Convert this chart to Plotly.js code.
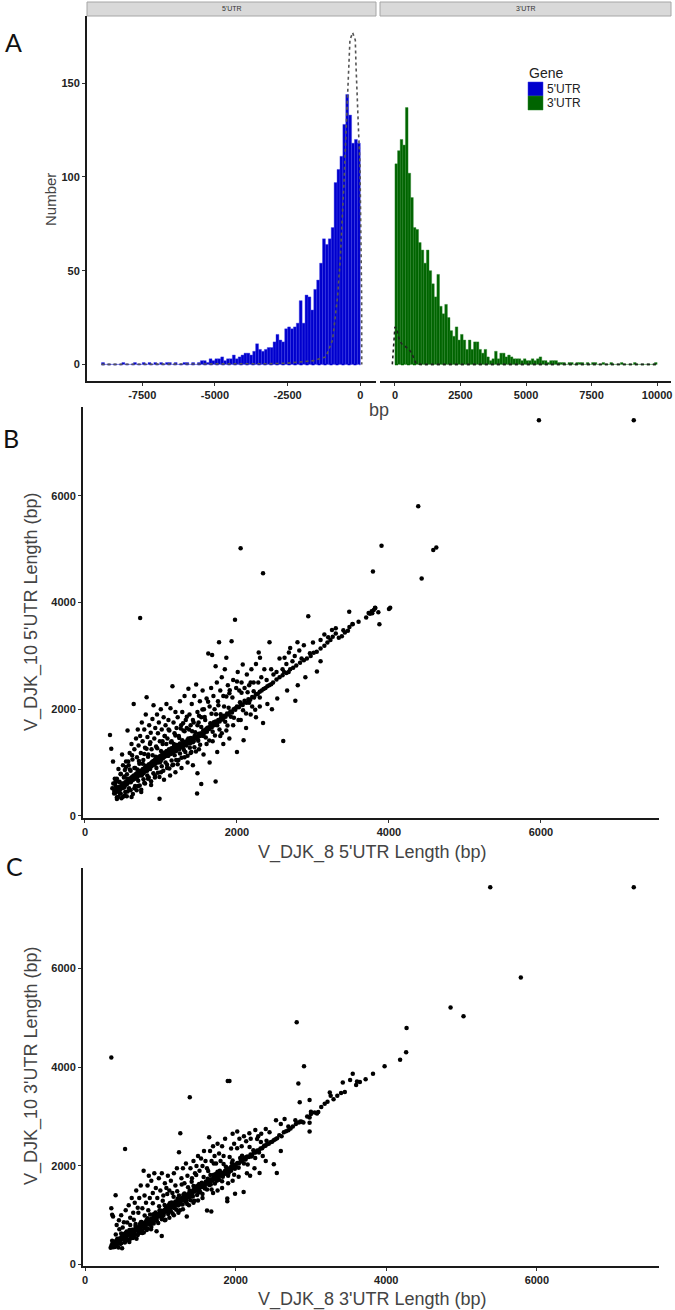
<!DOCTYPE html>
<html><head><meta charset="utf-8">
<script src="https://cdn.plot.ly/plotly-3.0.1.min.js"></script>
<style>html,body{margin:0;padding:0;background:#fff}#chart{width:675px;height:1310px}</style>
</head><body><div id="chart"></div>
<script>
// ---------- DATA ----------
const binWidth = 100;
const fivePrimeFirstBin = -8900;
const fivePrimeCounts = [1,0,0,0,0,0,0,1,0,0,0,1,0,0,1,0,1,0,1,0,1,0,1,1,0,1,0,0,1,1,0,1,0,1,
  2,2,1,3,2,3,3,4,2,3,3,5,3,4,5,6,6,5,7,11,8,7,8,9,9,12,16,13,12,19,20,19,20,22,34,22,37,36,29,40,
  45,54,67,64,67,73,97,104,111,128,144,133,118,120,118];
const threePrimeFirstBin = 0;
const threePrimeCounts = [107,114,120,117,137,102,89,73,72,65,61,54,61,50,43,36,48,31,27,32,25,18,15,20,13,
  16,13,8,13,8,12,12,8,6,8,4,2,3,7,3,6,6,
  4,5,4,3,3,3,2,3,2,2,3,2,3,4,2,2,1,2,2,2,1,1,1,0,1,1,0,1,1,1,0,1,0,1,1,0,0,1,0,0,1,0,0,0,1,0,0,0,0,1,0,0,0,0,0,0,0,1];
const fivePrimeDensityX = [-8900,-4000,-3000,-2500,-2000,-1600,-1400,-1184,-954,-782,-690,-609,-552,-494,-437,-356,-264,-172,-149,-115,-57,-11,23,46,48,50];
const fivePrimeDensityY = [0,0.2,0.4,0.7,1.2,2,3,4,13,36,56,79,100,123,146,173,177,173,160,143,123,107,72,36,4,0];
const threePrimeDensityX = [-100,0,65,150,255,350,445,540,640,720,800,1000,10000];
const threePrimeDensityY = [0,20,19,14,11,10,9,8,6,3,0.5,0,0];
const xTicksLeft = [-7500,-5000,-2500,0];
const xTickTextLeft = ['-7500','-5000','-2500','0'];
const xTicksRight = [0,2500,5000,7500,10000];
const xTickTextRight = ['0','2500','5000','7500','10000'];
const yTicksHist = [0,50,100,150];
const lengthTicks = [0,2000,4000,6000];
const geneNames = ["5'UTR","3'UTR"];
const geneColors = ['#0000CD','#006400'];

// [V_DJK_8, V_DJK_10] 5'UTR lengths (bp)
const utr5Pairs = [
[385,470],[398,430],[410,505],[418,455],[426,520],[434,480],[442,545],[450,470],[458,530],[466,505],[474,560],[482,520],[490,600],[498,540],[506,575],[514,610],[522,550],[530,630],[538,590],[546,650],[554,600],[562,620],[570,680],[578,640],[586,700],[594,660],[602,630],[610,720],[618,690],[626,740],[634,680],[642,760],[650,710],[658,700],[666,780],[674,740],[682,800],[690,730],[698,760],[706,820],[714,770],[722,840],[730,790],[738,760],[746,850],[754,820],[762,880],[770,800],[778,860],[786,900],[794,840],[802,930],[810,880],[818,850],[826,940],[834,900],[842,970],[850,910],[858,880],[866,990],[874,930],[882,1010],[890,950],[898,1030],[906,960],[914,1000],[922,1060],[930,980],[938,1050],[946,1010],[954,1090],[962,1030],[970,1000],[978,1110],[986,1060],[994,1130],[1002,1050],[1010,1100],[1018,1160],[1026,1080],[1034,1140],[1042,1110],[1050,1190],[1058,1120],[1066,1170],[1074,1220],[1082,1150],[1090,1200],[1098,1130],[1106,1250],[1114,1180],[1122,1230],[1130,1160],[1138,1270],[1146,1210],[1154,1260],[1162,1190],[1170,1300],[1180,1240],[1190,1290],[1200,1220],[1210,1330],[1220,1270],[1230,1310],[1240,1250],[1250,1360],[1262,1300],[1274,1340],[1286,1290],[1298,1390],[1310,1330],[1322,1380],[1334,1320],[1346,1420],[1358,1370],[1370,1410],[1382,1360],[1394,1460],[1406,1400],[1418,1450],[1430,1400],[1442,1500],[1456,1450],[1470,1490],[1484,1440],[1498,1540],[1512,1500],[1526,1550],[1540,1510],[1556,1600],[1572,1560],[1588,1620],[1604,1580],[1620,1660],[1636,1630],[1652,1700],[1668,1660],[1684,1730],[1700,1700],[1718,1770],[1736,1740],[1754,1800],[1772,1770],[1790,1840],[1810,1810],[1830,1880],[1850,1860],[1870,1920],[1890,1900],[1912,1960],[1934,1940],[1956,2000],[1978,1990],[2000,2050],[2025,2040],[2050,2090],[2075,2080],[2100,2130],[2125,2120],[2150,2190],[2175,2180],[2200,2230],[2225,2220],[2250,2280],[2275,2290],[2300,2330],[2325,2350],[2350,2380],[2375,2400],[2400,2430],[2425,2450],[2450,2470],[2475,2500],
[2520,2560],[2560,2600],[2600,2640],[2620,2700],[2650,2680],[2680,2700],[2700,2750],[2740,2780],[2780,2820],[2830,2870],[2880,2920],[2920,2950],[2970,3000],[3010,3060],[3050,3080],[3100,3140],[3150,3190],[3190,3250],[3230,3300],[3260,3360],[3300,3420],[3340,3340],[3380,3370],[3420,3440],[3460,3470],[3480,3540],[3520,3600],[3600,3640],[3700,3720],[3750,3790],[3780,3800],[3800,3860],[3820,3900],[3860,3820],[4000,3880],
[329,1516],[346,1258],[369,1019],[395,620],[420,700],[440,880],[455,640],[470,780],[488,1150],[500,950],[512,720],[525,860],[540,1020],[552,780],[560,1600],[575,950],[588,1180],[600,850],[612,1350],[625,1060],[641,2097],[650,1250],[660,900],[672,1450],[684,1100],[695,1620],[705,1320],[716,980],[726,1500],[726,3710],[735,1180],[748,1750],[758,1400],[768,1050],[780,1620],[790,1280],[800,1900],[811,2226],[822,1480],[832,1150],[845,1700],[855,1350],[865,1560],[876,1250],[888,1820],[902,2077],[912,1450],[925,1650],[936,1300],[948,1900],[960,1550],[972,1750],[985,1400],[998,2000],[1010,1620],[1022,1350],[1035,1850],[1048,1500],[1060,1700],[1072,2100],[1085,1450],[1098,1800],[1110,1600],[1125,2020],[1140,1400],[1151,2432],[1165,1750],[1178,1550],[1190,1950],[1205,1650],[1220,1850],[1235,1500],[1250,2150],[1265,1700],[1280,1950],[1296,1600],[1310,2250],[1326,1800],[1340,1650],[1361,2387],[1375,1900],[1390,1700],[1405,2100],[1420,1800],[1438,2250],[1463,2465],[1480,1950],[1495,1750],[1512,2150],[1530,1850],[1548,2350],[1565,2000],[1582,1800],[1600,2200],[1622,3045],[1640,2050],[1660,2400],[1673,3019],[1690,2250],[1705,2000],[1719,2806],[1735,2500],[1750,2150],[1764,3258],[1780,2350],[1800,2600],[1820,2250],[1840,2750],[1860,2968],[1880,2450],[1900,2300],[1929,3277],[1950,2550],[1974,3677],[1990,2400],[2010,2700],[2030,2350],[2048,5019],[2060,2500],[2076,2839],[2100,2400],[2130,2650],[2160,2450],[2190,2750],[2220,2500],[2250,2850],[2286,3065],[2303,2968],[2320,2600],[2343,4548],[2360,2750],[2390,2550],[2428,3258],[2450,2750],[2480,2650],[2520,2700],[2560,2950],[2600,2750],[2626,2968],[2650,2850],[2683,3065],[2700,3150],[2730,2900],[2760,3000],[2796,3258],[2820,3100],[2850,2950],[2880,3200],[2938,3742],[2960,3050],[3000,3250],[3052,2710],[3100,3300],[3150,3400],[3200,3350],[3250,3484],[3300,3520],[3400,3480],[3477,3826],[3522,3594],[3732,3806],[3772,3839],[3817,3903],[3789,4581],[3874,3594],[3902,5065],[4016,3903],[4385,5806],[4430,4452],[4583,4987],[4623,5032],[5973,7419],[7221,7419],
[420,350],[470,420],[520,380],[560,460],[613,355],[650,520],[700,560],[740,450],[780,620],[830,700],[870,580],[920,760],[981,323],[1000,820],[1040,680],[1080,900],[1120,760],[1150,950],[1190,820],[1230,1050],[1270,900],[1310,1100],[1350,1000],[1390,1180],[1420,950],[1475,419],[1480,800],[1500,1250],[1530,600],[1560,1150],[1600,1350],[1640,1000],[1680,1400],[1719,645],[1740,1200],[1780,1500],[1820,1350],[1860,1600],[1900,1450],[1950,1700],[2000,1200],[2050,1800],[2087,1419],[2120,1650],[2180,1900],[2250,1850],[2300,2050],[2343,1742],[2400,2100],[2460,2000],[2530,2200],[2609,1406],[2660,2350],[2768,2161],[2800,2450],[2900,2600],[3100,2900],
[360,520],[372,610],[384,420],[392,700],[402,560],[410,660],[420,320],[430,490],[440,360],[450,630],[460,420],[470,790],[480,330],[490,610],[500,360],[510,530],[520,740],[530,450],[540,920],[550,370],[560,700],[570,1020],[580,520],[590,870],[600,480],[610,650],[620,1140],[630,410],[640,730],[650,900],[660,560],[670,730],[680,480],[690,870],[700,660],[710,1030],[720,570],[730,850],[740,490],[750,770],[760,980],[770,690],[780,1160],[790,610],[800,940],[810,1260],[820,760],[830,1110],[840,720],[850,890],[860,1380],[870,650],[880,970],[890,1140],[900,800],[910,970],[920,720],[930,1110],[940,900],[950,1270],[960,810],[970,1090],[980,730],[990,1010],[1000,1220],[1010,930],[1020,1400],[1030,850],[1040,1180],[1050,1500],[1060,1000],[1070,1350],[1080,960],[1090,1130],[1100,1620],[1110,890],[1120,1210],[1130,1380],[1140,1040],[1150,1210],[1160,960],[1170,1350],[1180,1140],[1190,1510],[1200,1050],[1210,1330],[1220,970],[1230,1250],[1240,1460],[1250,1170],[1260,1640],[1270,1090],[1280,1420],[1290,1740],[1300,1240],[1310,1590],[1320,1200],[1330,1370],[1340,1860],[1350,1130],[1360,1450],[1370,1620],[1380,1280],[1390,1450],[1400,1200],[1410,1590],[1420,1380],[1430,1750],[1440,1290],[1450,1570],[1460,1210],[1470,1490],[1480,1700],[1490,1410],[1500,1880],[1515,1335],[1530,1670],[1545,1995],[1560,1500],[1575,1855],[1590,1470],[1605,1645],[1620,2140],[1635,1415],[1650,1740],[1665,1915],[1680,1580],[1695,1755],[1710,1510],[1725,1905],[1740,1700],[1755,2075],[1770,1620],[1785,1905],[1800,1550],[1815,1835],[1830,2050],[1845,1765],[1860,2240],[1875,1695],[1890,2030],[1905,2355],[1920,1860],[1940,2220],[1960,1840],[1980,2020],[2000,2520],[2020,1800],[2040,2130],[2060,2310],[2080,1980],[2100,2160],[2120,1920],[2140,2320],[2160,2120],[2180,2500],[2200,2050],[2220,2340],[2240,1990],[2260,2280],[2280,2500],[2300,2220]
];

// [V_DJK_8, V_DJK_10] 3'UTR lengths (bp)
const utr3Pairs = [
[340,340],[352,390],[364,420],[376,360],[388,450],[400,410],[412,480],[424,440],[436,500],[448,470],[460,530],[472,490],[484,560],[496,520],[508,580],[520,540],[532,600],[544,560],[556,620],[568,590],[580,640],[592,610],[604,670],[616,630],[628,690],[640,650],[652,710],[664,680],[676,730],[688,700],[700,750],[712,720],[724,780],[736,740],[748,800],[760,770],[772,820],[784,790],[796,850],[808,810],[820,870],[832,840],[844,890],[856,860],[868,920],[880,880],[892,940],[904,900],[916,970],[928,930],[940,990],[952,950],[964,1020],[976,980],[988,1040],[1000,1000],[1012,1060],[1024,1030],[1036,1090],[1048,1050],[1060,1110],[1072,1080],[1084,1140],[1096,1100],[1108,1160],[1120,1130],[1132,1190],[1144,1150],[1156,1210],[1168,1180],[1180,1240],[1192,1200],[1204,1260],[1216,1230],[1228,1290],[1240,1250],[1252,1310],[1264,1280],[1276,1340],[1288,1300],[1300,1360],[1314,1330],[1328,1390],[1342,1360],[1356,1420],[1370,1390],[1384,1450],[1398,1420],[1412,1480],[1426,1450],[1440,1510],[1456,1480],[1472,1540],[1488,1510],[1504,1570],[1520,1540],[1536,1600],[1552,1570],[1568,1630],[1584,1600],[1600,1660],[1618,1640],[1636,1700],[1654,1670],[1672,1730],[1690,1700],[1708,1760],[1726,1730],[1744,1790],[1762,1770],[1780,1830],[1800,1800],[1820,1860],[1840,1840],[1860,1900],[1880,1880],[1900,1940],[1920,1920],[1940,1980],[1960,1960],[1980,2020],[2000,2000],[2022,2060],[2044,2050],[2066,2100],[2088,2090],[2110,2140],[2132,2130],[2154,2190],[2176,2180],[2198,2230],[2220,2220],[2242,2270],[2264,2270],[2286,2310],[2308,2310],[2330,2350],[2352,2360],[2374,2400],[2396,2410],[2418,2440],[2440,2450],[2462,2480],[2484,2490],[2506,2520],[2528,2540],[2550,2560],
[430,520],[470,420],[510,620],[550,500],[590,700],[630,580],[670,780],[710,660],[750,860],[790,740],[830,940],[870,820],[910,1020],[950,900],[990,1100],[1030,980],[1070,1180],[1110,1060],[1150,1260],[1190,1140],[1230,1340],[1270,1220],[1310,1420],[1350,1300],[1390,1500],[1430,1380],[1470,1580],[1510,1460],[1550,1660],[1590,1540],[1630,1740],[1670,1620],[1710,1820],[1750,1700],[1790,1900],[1830,1780],[1870,1980],[1910,1860],[1950,2060],[1990,1940],
[2580,2620],[2610,2600],[2640,2680],[2670,2700],[2700,2720],[2730,2760],[2760,2800],[2800,2850],[2840,2880],[2860,2900],[2900,2880],[2950,3000],[3000,3050],[3050,3080],[3080,3060],[3097,3093],[3137,3192],[3183,3258],[3220,3300],[3250,3490],[3262,3424],[3300,3350],[3350,3420],[3400,3480],[3423,3689],[3450,3500],[3520,3742],[3555,3868],[3600,3642],[3612,3709],[3650,3700],[3726,3755],[3824,3868],[3978,4020],[4184,4152],[4264,4305],[4270,4795],
[349,4199],[349,1139],[360,1007],[372,974],[406,1404],[420,800],[450,900],[480,1000],[500,750],[532,2344],[540,1100],[560,850],[580,1200],[600,950],[620,1350],[640,1050],[660,1250],[680,1500],[700,1150],[720,1350],[740,1600],[761,1139],[778,1901],[790,1400],[810,1250],[830,1600],[847,1801],[860,1350],[880,1700],[900,1450],[920,1850],[940,1550],[960,1350],[980,1750],[1000,1500],[1020,1850],[1040,1400],[1060,1650],[1080,1550],[1100,1800],[1120,1500],[1140,1700],[1160,1450],[1180,1850],[1200,1600],[1220,1950],[1248,2278],[1265,2662],[1280,1750],[1300,1950],[1320,1650],[1340,2050],[1360,1800],[1391,3391],[1400,1950],[1420,1750],[1440,2100],[1460,1850],[1480,2000],[1500,2200],[1520,1900],[1540,2150],[1560,2000],[1580,2300],[1600,2100],[1620,1950],[1649,2583],[1660,2300],[1680,2100],[1700,2400],[1720,2200],[1740,2050],[1760,2450],[1780,2250],[1800,2100],[1820,2400],[1840,2200],[1860,2550],[1895,3722],[1918,3722],[1940,2350],[1960,2650],[1980,2450],[2021,2695],[2050,2550],[2080,2400],[2110,2600],[2140,2500],[2182,2662],[2200,2550],[2261,2728],[2300,2600],[2340,2650],[2400,2750],[2450,2680],[2507,2033],[2536,2927],[2600,2850],[2650,2950],[2700,2800],[2793,2927],[2811,4914],[2833,3669],[2851,3291],[2879,2894],[2908,4020],[2982,3338],[2982,2980],[2982,2874],[2982,2695],[3000,3100],[4854,5212],[5026,5033],[5381,7649],[5787,5821],[7287,7649],
[420,380],[480,430],[530,460],[600,520],[650,560],[700,600],[760,640],[820,700],[880,760],[950,675],[1019,576],[1060,900],[1120,950],[1180,1000],[1240,1050],[1300,1120],[1351,974],[1380,1200],[1440,1250],[1500,1300],[1560,1350],[1620,1093],[1677,1073],[1700,1450],[1760,1500],[1820,1550],[1889,1338],[1889,1285],[1900,1650],[1960,1700],[1992,1437],[2040,1780],[2106,1470],[2150,1850],[2192,1801],[2250,1950],[2318,1854],[2400,2100],[2547,1854],[2600,2300],
[360,480],[372,352],[384,424],[396,356],[408,608],[420,400],[432,512],[444,344],[456,716],[468,428],[480,630],[492,332],[504,534],[516,856],[528,448],[540,640],[552,672],[564,504],[576,616],[588,458],[600,800],[612,592],[624,704],[636,536],[648,908],[660,620],[672,822],[684,524],[696,726],[708,1048],[720,640],[732,832],[744,864],[756,696],[768,808],[780,650],[792,992],[804,784],[816,896],[828,728],[840,1100],[852,812],[864,1014],[876,716],[888,918],[900,1240],[912,832],[924,1024],[936,1056],[948,888],[960,1000],[972,842],[984,1184],[996,976],[1008,1088],[1020,920],[1032,1292],[1044,1004],[1056,1206],[1068,908],[1080,1110],[1092,1432],[1104,1024],[1116,1216],[1128,1248],[1140,1080],[1152,1192],[1164,1034],[1176,1376],[1188,1168],[1200,1280],[1212,1112],[1224,1484],[1236,1196],[1248,1398],[1260,1100],[1272,1302],[1284,1624],[1296,1216],[1308,1408],[1320,1440],[1332,1272],[1344,1384],[1356,1226],[1368,1568],[1380,1360],[1392,1472],[1404,1304],[1416,1676],[1428,1388],[1440,1590],[1452,1292],[1464,1494],[1476,1816],[1488,1408],[1500,1600],[1515,1635],[1530,1470],[1545,1585],[1560,1430],[1575,1775],[1590,1570],[1605,1685],[1620,1520],[1635,1895],[1650,1610],[1665,1815],[1680,1520],[1695,1725],[1710,2050],[1725,1645],[1740,1840],[1760,1880],[1780,1720],[1800,1840],[1820,1690],[1840,2040],[1860,1840],[1880,1960],[1900,1800],[1920,2180],[1940,1900],[1960,2110],[1980,1820],[2000,2030],[2020,2360],[2040,1960],[2060,2160],[2085,2205],[2110,2050],[2135,2175],[2160,2030],[2185,2385],[2210,2190],[2235,2315],[2260,2160],[2285,2545],[2310,2270],[2335,2485],[2360,2200],[2385,2415],[2410,2510]
];

// ---------- BUILD ----------
const W = 675, H = 1310;
const px = v => v / W;
const py = v => 1 - v / H;

const binCenters = (first, n) => Array.from({length: n}, (_, i) => first + binWidth * (i + 0.5));
const x5 = binCenters(fivePrimeFirstBin, fivePrimeCounts.length);
const x3 = binCenters(threePrimeFirstBin, threePrimeCounts.length);

const traces = [
  {type:'scatter', mode:'lines', x:[x5[0]-binWidth/2, x5[x5.length-1]+binWidth/2], y:[0,0],
   line:{color:geneColors[0], width:1.5, dash:'dot'}, xaxis:'x', yaxis:'y', hoverinfo:'skip', showlegend:false},
  {type:'scatter', mode:'lines', x:[x3[0]-binWidth/2, x3[x3.length-1]+binWidth/2], y:[0,0],
   line:{color:geneColors[1], width:1.5, dash:'dot'}, xaxis:'x2', yaxis:'y2', hoverinfo:'skip', showlegend:false},
  {type:'bar', name:geneNames[0], x:x5, y:fivePrimeCounts, width:binWidth,
   marker:{color:geneColors[0], line:{color:'#3a3ae6', width:0.4}}, xaxis:'x', yaxis:'y', showlegend:false},
  {type:'bar', name:geneNames[1], x:x3, y:threePrimeCounts, width:binWidth,
   marker:{color:geneColors[1], line:{color:'#2a862a', width:0.4}}, xaxis:'x2', yaxis:'y2', showlegend:false},
  {type:'scatter', mode:'lines', x:fivePrimeDensityX, y:fivePrimeDensityY,
   line:{color:'#555', width:1.6, dash:'dot'}, xaxis:'x', yaxis:'y', showlegend:false},
  {type:'scatter', mode:'lines', x:threePrimeDensityX, y:threePrimeDensityY,
   line:{color:'#222', width:1.6, dash:'dot'}, xaxis:'x2', yaxis:'y2', showlegend:false},
  {type:'scatter', mode:'markers', x:utr5Pairs.map(p=>p[0]), y:utr5Pairs.map(p=>p[1]),
   marker:{color:'#000', size:4.5}, xaxis:'x3', yaxis:'y3', showlegend:false},
  {type:'scatter', mode:'markers', x:utr3Pairs.map(p=>p[0]), y:utr3Pairs.map(p=>p[1]),
   marker:{color:'#000', size:4.5}, xaxis:'x4', yaxis:'y4', showlegend:false}
];

const tickFont = {family:'Liberation Sans, Arial, sans-serif', size:11, color:'#222', weight:'bold'};
const axisBase = {showline:true, linecolor:'#1a1a1a', linewidth:2, ticks:'outside', ticklen:3,
  tickwidth:1, tickcolor:'#333', showgrid:false, zeroline:false, tickfont:tickFont, fixedrange:true};

const titleFont = {family:'Liberation Sans, Arial, sans-serif', size:18, color:'#444'};
const letterFont = {family:'Lato, Open Sans, sans-serif', size:25, color:'#111'};

const ann = (x, y, text, font, extra) => Object.assign({x:x, y:y, xref:'paper', yref:'paper', text:text,
  showarrow:false, font:font, xanchor:'center', yanchor:'middle'}, extra || {});

const layout = {
  width:W, height:H, margin:{l:0, r:0, t:0, b:0}, paper_bgcolor:'#fff', plot_bgcolor:'#fff',
  bargap:0, showlegend:false,
  xaxis: Object.assign({}, axisBase, {domain:[px(87), px(376)], range:[-9400, 540], anchor:'y',
    tickvals:xTicksLeft, ticktext:xTickTextLeft}),
  yaxis: Object.assign({}, axisBase, {domain:[py(381), py(16)], range:[-8.85, 185.85], anchor:'x',
    tickvals:yTicksHist}),
  xaxis2: Object.assign({}, axisBase, {domain:[px(380), px(671)], range:[-570, 10530], anchor:'y2',
    tickvals:xTicksRight, ticktext:xTickTextRight}),
  yaxis2: {domain:[py(381), py(16)], range:[-8.85, 185.85], anchor:'x2', showline:false, showticklabels:false,
    ticks:'', showgrid:false, zeroline:false, fixedrange:true},
  xaxis3: Object.assign({}, axisBase, {domain:[px(83), px(659)], range:[-26, 7553], anchor:'y3',
    tickvals:lengthTicks}),
  yaxis3: Object.assign({}, axisBase, {domain:[py(818), py(407)], range:[-38, 7666], anchor:'x3',
    tickvals:lengthTicks}),
  xaxis4: Object.assign({}, axisBase, {domain:[px(83), px(659)], range:[-27, 7622], anchor:'y4',
    tickvals:lengthTicks}),
  yaxis4: Object.assign({}, axisBase, {domain:[py(1266), py(868)], range:[-30, 8040], anchor:'x4',
    tickvals:lengthTicks}),
  shapes: [
    {type:'rect', xref:'paper', yref:'paper', x0:px(87), x1:px(376), y0:py(16), y1:py(2),
     fillcolor:'#d9d9d9', line:{color:'#a6a6a6', width:1}},
    {type:'rect', xref:'paper', yref:'paper', x0:px(380), x1:px(671), y0:py(16), y1:py(2),
     fillcolor:'#d9d9d9', line:{color:'#a6a6a6', width:1}},
    {type:'rect', xref:'paper', yref:'paper', x0:px(528), x1:px(543), y0:py(96), y1:py(82),
     fillcolor:geneColors[0], line:{color:'#3a3ae6', width:0.5}},
    {type:'rect', xref:'paper', yref:'paper', x0:px(528), x1:px(543), y0:py(110), y1:py(96),
     fillcolor:geneColors[1], line:{color:'#2a862a', width:0.5}}
  ],
  annotations: [
    ann(px(13), py(42), 'A', letterFont),
    ann(px(11), py(438), 'B', letterFont),
    ann(px(14), py(866), 'C', letterFont),
    ann(px((87+376)/2), py(9), geneNames[0], {family:'Liberation Sans, Arial', size:7, color:'#333'}),
    ann(px((380+671)/2), py(9), geneNames[1], {family:'Liberation Sans, Arial', size:7, color:'#333'}),
    ann(px(50), py(200), 'Number', {family:'Liberation Sans, Arial', size:15, color:'#444'}, {textangle:-90}),
    ann(px(379), py(410), 'bp', titleFont),
    ann(px(372), py(852), "V_DJK_8 5'UTR Length (bp)", titleFont),
    ann(px(31), py(612), "V_DJK_10 5'UTR Length (bp)", titleFont, {textangle:-90}),
    ann(px(372), py(1299), "V_DJK_8 3'UTR Length (bp)", titleFont),
    ann(px(31), py(1066), "V_DJK_10 3'UTR Length (bp)", titleFont, {textangle:-90}),
    ann(px(527), py(73), 'Gene', {family:'Liberation Sans, Arial', size:14, color:'#222'}, {xanchor:'left'}),
    ann(px(545), py(89), geneNames[0], {family:'Liberation Sans, Arial', size:12, color:'#222'}, {xanchor:'left'}),
    ann(px(545), py(103), geneNames[1], {family:'Liberation Sans, Arial', size:12, color:'#222'}, {xanchor:'left'})
  ]
};

Plotly.newPlot('chart', traces, layout, {displayModeBar:false, staticPlot:true});
</script>
</body></html>
